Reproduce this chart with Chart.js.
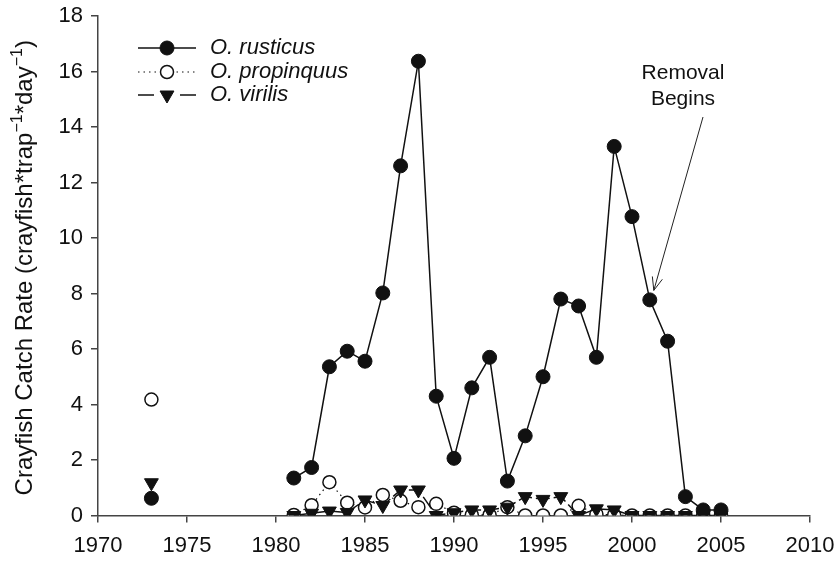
<!DOCTYPE html>
<html><head><meta charset="utf-8">
<script src="https://cdn.jsdelivr.net/npm/chart.js@4.4.1/dist/chart.umd.min.js"></script>
<style>html,body{margin:0;padding:0;background:#fff}#wrap{width:834px;height:563px}</style>
</head><body><div id="wrap"><canvas id="c" width="834" height="563"></canvas></div>
<script>
const years = [1973,1974,1975,1976,1977,1978,1979,1980,1981,1982,1983,1984,1985,1986,1987,1988,1989,1990,1991,1992,1993,1994,1995,1996,1997,1998,1999,2000,2001,2002,2003,2004,2005];
const rusticus = [0.62,null,null,null,null,null,null,null,1.35,1.73,5.36,5.92,5.56,8.02,12.6,16.37,4.3,2.06,4.6,5.7,1.24,2.87,5.0,7.8,7.55,5.7,13.3,10.77,7.77,6.28,0.68,0.2,0.2];
const propinquus = [4.18,null,null,null,null,null,null,null,0.02,0.37,1.2,0.46,0.29,0.74,0.53,0.3,0.42,0.1,0.02,0.02,0.3,0.0,0.0,0.0,0.35,0.05,0.02,0.0,0.0,0.0,0.0,0.0,0.0];
const virilis = [1.18,null,null,null,null,null,null,null,0.0,0.08,0.16,0.11,0.56,0.36,0.92,0.92,0.0,0.1,0.2,0.2,0.3,0.68,0.58,0.68,0.0,0.24,0.2,0.0,0.0,0.0,0.0,0.0,0.0];
const seriesNames = ['O. rusticus','O. propinquus','O. virilis'];
const xTickValues = [1970,1975,1980,1985,1990,1995,2000,2005,2010];
const yTickValues = [0,2,4,6,8,10,12,14,16,18];
// y title pieces: [text, isSuperscript]
const yTitleParts = [['Crayfish Catch Rate (crayfish*trap',false],['\u22121',true],['*day',false],['\u22121',true],[')',false]];
const annotationLines = ['Removal','Begins'];
const annotationYear = 2001;

const FONT = "'Liberation Sans', Arial, Helvetica, sans-serif";
Chart.defaults.font.family = FONT;
Chart.defaults.font.size = 22;
Chart.defaults.color = '#111';

const toPts = arr => years.map((yr,i)=>({x:yr,y:arr[i]}));

const styles = [
  {pointStyle:'circle', radius:7, rotation:0, bg:'#111', border:'#111', bw:1, dash:[], lw:1.5},
  {pointStyle:'circle', radius:6.5, rotation:0, bg:'#fff', border:'#111', bw:1.5, dash:[1.5,4], lw:1.2},
  {pointStyle:'triangle', radius:8, rotation:180, bg:'#111', border:'#111', bw:1, dash:[14,4], lw:1.5}
];
const seriesData = [rusticus, propinquus, virilis];

const datasets = seriesData.map((arr,i)=>({
  label: seriesNames[i],
  data: toPts(arr),
  borderColor: '#111',
  borderWidth: styles[i].lw,
  borderDash: styles[i].dash,
  backgroundColor: styles[i].bg,
  pointStyle: styles[i].pointStyle,
  pointRadius: styles[i].radius,
  pointRotation: styles[i].rotation,
  pointBackgroundColor: styles[i].bg,
  pointBorderColor: styles[i].border,
  pointBorderWidth: styles[i].bw,
  spanGaps: false,
  tension: 0,
  fill: false,
  order: [0,2,1][i]
}));

const legendPlugin = {
  id: 'customLegend',
  afterDraw(chart) {
    const ctx = chart.ctx;
    const rows = [48, 72, 95];
    ctx.save();
    rows.forEach((y,i)=>{
      const s = styles[i];
      ctx.strokeStyle = '#111';
      ctx.lineWidth = s.lw;
      ctx.setLineDash(i===1 ? [1.5,4] : []);
      if (i===2) {
        ctx.beginPath(); ctx.moveTo(138,y); ctx.lineTo(154,y); ctx.stroke();
        ctx.beginPath(); ctx.moveTo(180,y); ctx.lineTo(196,y); ctx.stroke();
      } else {
        ctx.beginPath(); ctx.moveTo(138,y); ctx.lineTo(196,y); ctx.stroke();
      }
      ctx.setLineDash([]);
      ctx.fillStyle = s.bg; ctx.strokeStyle = s.border; ctx.lineWidth = s.bw;
      Chart.helpers.drawPoint(ctx, {pointStyle:s.pointStyle, radius:s.radius, rotation:s.rotation, borderWidth:s.bw}, 167, y);
      ctx.fillStyle = '#111';
      ctx.font = 'italic 22px ' + FONT;
      ctx.textBaseline = 'middle';
      ctx.textAlign = 'left';
      ctx.fillText(seriesNames[i], 210, y);
    });
    ctx.restore();
  }
};

const yTitlePlugin = {
  id: 'yTitle',
  afterDraw(chart) {
    const ctx = chart.ctx;
    const ca = chart.chartArea;
    const big = '24px ' + FONT, small = '16px ' + FONT;
    ctx.save();
    let total = 0;
    yTitleParts.forEach(([t,sup])=>{ ctx.font = sup ? small : big; total += ctx.measureText(t).width; });
    ctx.translate(25, (ca.top + ca.bottom)/2 + 2);
    ctx.rotate(-Math.PI/2);
    ctx.fillStyle = '#111';
    ctx.textBaseline = 'middle';
    ctx.textAlign = 'left';
    let x = -total/2;
    yTitleParts.forEach(([t,sup])=>{
      ctx.font = sup ? small : big;
      ctx.fillText(t, x, sup ? -7 : 0);
      x += ctx.measureText(t).width;
    });
    ctx.restore();
  }
};

const annotationPlugin = {
  id: 'removalNote',
  afterDraw(chart) {
    const ctx = chart.ctx;
    const xs = chart.scales.x, ys = chart.scales.y;
    const idx = years.indexOf(annotationYear);
    const px = xs.getPixelForValue(annotationYear);
    const py = ys.getPixelForValue(rusticus[idx]);
    ctx.save();
    ctx.fillStyle = '#111';
    ctx.font = '21px ' + FONT;
    ctx.textAlign = 'center';
    ctx.textBaseline = 'middle';
    ctx.fillText(annotationLines[0], 683, 73);
    ctx.fillText(annotationLines[1], 683, 99);
    const sx = 703, sy = 117;
    const tx = px + 4, ty = py - 9.5;
    ctx.strokeStyle = '#222';
    ctx.lineWidth = 1;
    ctx.beginPath(); ctx.moveTo(sx,sy); ctx.lineTo(tx,ty); ctx.stroke();
    const ang = Math.atan2(ty-sy, tx-sx);
    const L = 14, a = 0.38;
    ctx.beginPath();
    ctx.moveTo(tx - L*Math.cos(ang - a), ty - L*Math.sin(ang - a));
    ctx.lineTo(tx, ty);
    ctx.lineTo(tx - L*Math.cos(ang + a), ty - L*Math.sin(ang + a));
    ctx.stroke();
    ctx.restore();
  }
};

new Chart(document.getElementById('c'), {
  type: 'line',
  data: { datasets },
  options: {
    responsive: false,
    animation: false,
    events: [],
    layout: { padding: { left: 0, right: 24, top: 16, bottom: 0 } },
    plugins: { legend: { display: false }, tooltip: { enabled: false } },
    scales: {
      x: {
        type: 'linear', min: 1970, max: 2010,
        afterBuildTicks: s => { s.ticks = xTickValues.map(v=>({value:v})); },
        ticks: { callback: v => String(v), color: '#111', padding: 10, maxRotation: 0, autoSkip: false },
        grid: { display: true, drawOnChartArea: false, drawTicks: true, tickLength: 7, color: '#444', lineWidth: 1.5 },
        border: { display: true, color: '#444', width: 1.5 },
        afterFit: s => { s.height = 47.5; s.paddingLeft = 0; s.paddingRight = 0; }
      },
      y: {
        type: 'linear', min: 0, max: 18,
        afterBuildTicks: s => { s.ticks = yTickValues.map(v=>({value:v})); },
        ticks: { callback: v => String(v), color: '#111', padding: 8 },
        grid: { display: true, drawOnChartArea: false, drawTicks: true, tickLength: 7, color: '#444', lineWidth: 1.5 },
        border: { display: true, color: '#444', width: 1.5 },
        afterFit: s => { s.width = 98; s.paddingTop = 0; s.paddingBottom = 0; }
      }
    }
  },
  plugins: [legendPlugin, yTitlePlugin, annotationPlugin]
});
</script></body></html>
